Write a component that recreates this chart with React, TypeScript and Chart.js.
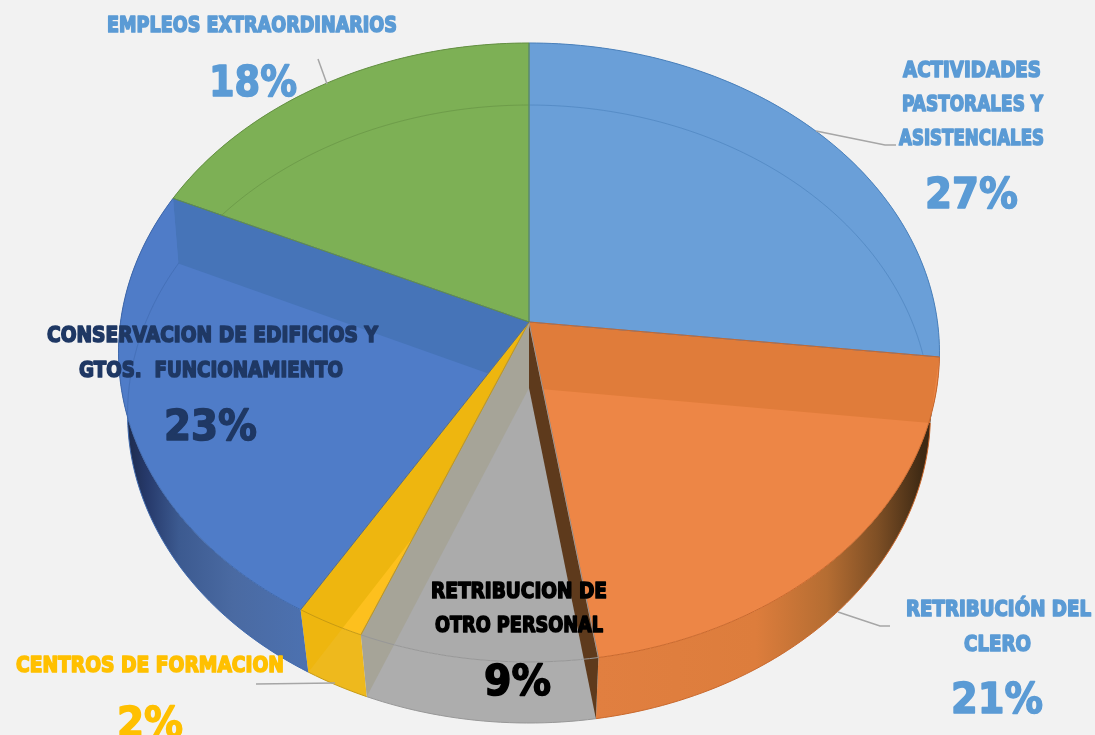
import React, { useEffect, useRef } from "react";
import { Chart, registerables } from "chart.js";

Chart.register(...registerables);

const categories = [
  "ACTIVIDADES PASTORALES Y ASISTENCIALES",
  "RETRIBUCIÓN DEL CLERO",
  "RETRIBUCION DE OTRO PERSONAL",
  "CENTROS DE FORMACION",
  "CONSERVACION DE EDIFICIOS Y GTOS. FUNCIONAMIENTO",
  "EMPLEOS EXTRAORDINARIOS",
];
const shares = [26.8, 20.75, 8.55, 2.45, 23.35, 18.1];
const faceColors = ["#6a9fd8", "#ed8646", "#ababab", "#fdc01e", "#4f7cc8", "#7db055"];
const edgeColors = ["#4a80ba", "#c9682c", "#979797", "#c79a12", "#3f69ad", "#648f43"];

const labelLines = [
  ["ACTIVIDADES", "PASTORALES Y", "ASISTENCIALES"],
  ["RETRIBUCIÓN DEL", "CLERO"],
  ["RETRIBUCION DE", "OTRO PERSONAL"],
  ["CENTROS DE FORMACION"],
  ["CONSERVACION DE EDIFICIOS Y", "GTOS.  FUNCIONAMIENTO"],
  ["EMPLEOS EXTRAORDINARIOS"],
];
const labelColors = ["#5b9bd5", "#5b9bd5", "#000000", "#ffc000", "#1f3864", "#5b9bd5"];
// [left, width, baseline] per line of text, then the same for the percentage
const lineBoxes = [
  [[903, 138, 77], [902, 141, 111], [899, 145, 145]],
  [[906, 185, 616], [964, 67, 651]],
  [[431, 176, 598], [435, 168, 632]],
  [[16, 268, 672]],
  [[47, 331, 342], [79, 264, 377]],
  [[107, 290, 32]],
];
const percentBoxes = [
  [925, 93, 208],
  [951, 92, 713],
  [484, 67, 695],
  [117, 66, 737],
  [164, 93, 440],
  [209, 88, 96],
];
const leaderLines = [
  [[816, 131], [885, 145], [896, 145]],
  [[838, 612], [880, 626], [890, 626]],
  [[256, 684], [335, 683]],
  [[318, 59], [327, 84]],
];

const topDisc = { cx: 529, cy: 322, a: 408.5, b: 306.5, k: 0.0985 };
const baseDisc = { cx: 529, cy: 388, a: 400, b: 306.8, k: 0.0842 };

// inner radial wall seen through the translucent top: [slice, which side, colour]
const innerWalls: [number, "start" | "end", string][] = [
  [1, "start", "#e07c3a"],
  [2, "end", "#a6a498"],
  [3, "end", "#eeb60f"],
  [4, "end", "#4674b8"],
];
const brownWall = "#5e3a1c";

const wallStops: [number, string][][] = [
  [[0, "#6a9fd8"], [1, "#6a9fd8"]],
  [[0.0, "#e17f40"], [0.47, "#dd7d3c"], [0.68, "#b56d32"], [0.83, "#7e4f25"], [0.96, "#3f2a14"], [1, "#3a2612"]],
  [[0, "#adadad"], [1, "#adadad"]],
  [[0, "#eeb91d"], [1, "#eeb91d"]],
  [[0, "#1c2a4a"], [0.12, "#26396a"], [0.3, "#3c5a90"], [0.6, "#4a6aa2"], [1, "#4c71b0"]],
  [[0, "#7db055"], [1, "#7db055"]],
];
const wallSpans = [[529, 941], [597, 935], [360, 597], [299, 365], [125, 305], [120, 529]];

type Disc = typeof topDisc;
type Pt = [number, number];

function project(d: Disc, theta: number): Pt {
  const x = Math.sin(theta);
  const y = -Math.cos(theta);
  const w = 1 - d.k * y;
  return [d.cx + (d.a * x) / w, d.cy + (d.b * y) / w];
}
function arcPts(d: Disc, t0: number, t1: number): Pt[] {
  const n = Math.max(2, Math.ceil(Math.abs(t1 - t0) / 0.02));
  const out: Pt[] = [];
  for (let i = 0; i <= n; i++) out.push(project(d, t0 + ((t1 - t0) * i) / n));
  return out;
}
function trace(ctx: CanvasRenderingContext2D | Path2D, pts: Pt[], close = true) {
  pts.forEach((p, i) => (i ? ctx.lineTo(p[0], p[1]) : ctx.moveTo(p[0], p[1])));
  if (close) ctx.closePath();
}
function area(pts: Pt[]) {
  let s = 0;
  pts.forEach((p, i) => {
    const q = pts[(i + 1) % pts.length];
    s += p[0] * q[1] - q[0] * p[1];
  });
  return s;
}
const clockwise = (pts: Pt[]) => (area(pts) < 0 ? [...pts].reverse() : pts);

function fitText(ctx: CanvasRenderingContext2D, text: string, box: number[], size: number, color: string, heavy: number) {
  ctx.save();
  ctx.font = `bold ${size}px "DejaVu Sans"`;
  ctx.textBaseline = "alphabetic";
  ctx.textAlign = "left";
  const m = ctx.measureText(text).width;
  ctx.translate(box[0], box[2]);
  ctx.scale(box[1] / m, 1);
  ctx.fillStyle = color;
  ctx.fillText(text, 0, 0);
  if (heavy > 0) {
    ctx.strokeStyle = color;
    ctx.lineWidth = heavy;
    ctx.lineJoin = "round";
    ctx.strokeText(text, 0, 0);
  }
  ctx.restore();
}

const pie3d = {
  id: "pie3d",
  beforeDatasetDraw(chart: any) {
    const ctx: CanvasRenderingContext2D = chart.ctx;
    const arcs = chart.getDatasetMeta(0).data;
    const spans: [number, number][] = arcs.map((a: any) => [a.startAngle + Math.PI / 2, a.endAngle + Math.PI / 2]);
    const topC: Pt = [topDisc.cx, topDisc.cy];
    const baseC: Pt = [baseDisc.cx, baseDisc.cy];

    ctx.save();
    // outer walls
    spans.forEach(([t0, t1], i) => {
      const poly = [...arcPts(topDisc, t0, t1), ...arcPts(baseDisc, t1, t0)];
      const g = ctx.createLinearGradient(wallSpans[i][0], 0, wallSpans[i][1], 0);
      wallStops[i].forEach(([o, c]) => g.addColorStop(o, c));
      ctx.beginPath();
      trace(ctx, poly);
      ctx.fillStyle = g;
      ctx.fill();
    });
    // bottom rim outline
    spans.forEach(([t0, t1], i) => {
      if (i < 1 || i > 4) return;
      ctx.beginPath();
      trace(ctx, arcPts(baseDisc, t0, t1), false);
      ctx.strokeStyle = edgeColors[i];
      ctx.lineWidth = 1;
      ctx.stroke();
    });
    // top faces
    spans.forEach(([t0, t1], i) => {
      ctx.beginPath();
      trace(ctx, [topC, ...arcPts(topDisc, t0, t1)]);
      ctx.fillStyle = faceColors[i];
      ctx.fill();
    });
    // far rim of the base seen through the top
    spans.forEach(([t0, t1], i) => {
      ctx.save();
      ctx.beginPath();
      trace(ctx, [topC, ...arcPts(topDisc, t0, t1)]);
      ctx.clip();
      ctx.beginPath();
      trace(ctx, arcPts(baseDisc, 4.55 - Math.PI * 2, 1.68), false);
      ctx.strokeStyle = edgeColors[i];
      ctx.globalAlpha = 0.6;
      ctx.lineWidth = 1;
      ctx.stroke();
      ctx.restore();
    });
    // translucent inner walls, clipped to their own slice
    innerWalls.forEach(([i, side, color]) => {
      const [t0, t1] = spans[i];
      const t = side === "start" ? t0 : t1;
      const clip = new Path2D();
      trace(clip, clockwise([topC, ...arcPts(topDisc, t0, t1)]));
      trace(clip, clockwise([...arcPts(topDisc, t0, t1), ...arcPts(baseDisc, t1, t0)]));
      ctx.save();
      ctx.clip(clip, "nonzero");
      ctx.beginPath();
      trace(ctx, [topC, project(topDisc, t), project(baseDisc, t), baseC]);
      ctx.fillStyle = color;
      ctx.fill();
      ctx.restore();
    });
    // dark radial wall at the end of the second slice
    {
      const t = spans[1][1];
      ctx.beginPath();
      trace(ctx, [topC, project(topDisc, t), project(baseDisc, t), baseC]);
      ctx.fillStyle = brownWall;
      ctx.fill();
    }
    // slice outlines
    spans.forEach(([t0, t1], i) => {
      ctx.beginPath();
      trace(ctx, [topC, ...arcPts(topDisc, t0, t1)]);
      ctx.strokeStyle = edgeColors[i];
      ctx.lineWidth = 1;
      ctx.stroke();
    });
    ctx.restore();
    return false; // the library's flat arcs are replaced by the projected ones
  },
  afterDraw(chart: any) {
    const ctx: CanvasRenderingContext2D = chart.ctx;
    ctx.save();
    ctx.strokeStyle = "#a6a6a6";
    ctx.lineWidth = 1.5;
    leaderLines.forEach((l) => {
      ctx.beginPath();
      trace(ctx, l as Pt[], false);
      ctx.stroke();
    });
    ctx.restore();
    const values: number[] = chart.data.datasets[0].data;
    labelLines.forEach((lines, i) => {
      lines.forEach((t, j) => fitText(ctx, t, lineBoxes[i][j], 22, labelColors[i], 1.7));
      fitText(ctx, `${Math.round(values[i])}%`, percentBoxes[i], 43, labelColors[i], 1.6);
    });
  },
};

export default function App() {
  const ref = useRef<HTMLCanvasElement>(null);
  useEffect(() => {
    document.body.style.margin = "0";
    document.body.style.background = "#f2f2f2";
    const chart = new Chart(ref.current!, {
      type: "pie",
      data: {
        labels: categories,
        datasets: [{ data: shares, backgroundColor: faceColors, borderColor: edgeColors, borderWidth: 1 }],
      },
      options: {
        animation: false,
        responsive: false,
        devicePixelRatio: 1,
        plugins: { legend: { display: false }, tooltip: { enabled: false } },
      },
      plugins: [pie3d as any],
    });
    return () => chart.destroy();
  }, []);
  return <canvas ref={ref} width={1095} height={735} style={{ display: "block", background: "#f2f2f2" }} />;
}
